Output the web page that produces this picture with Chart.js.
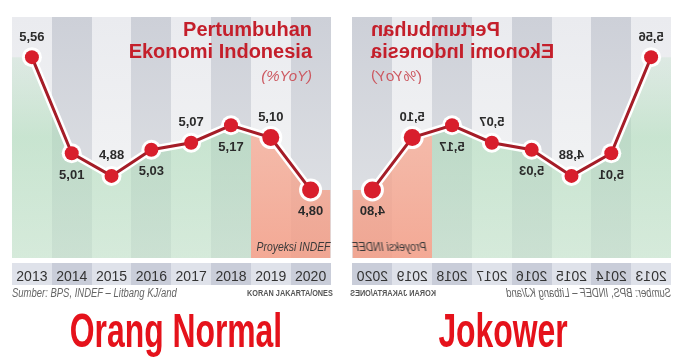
<!DOCTYPE html>
<html>
<head>
<meta charset="utf-8">
<script src="https://cdn.jsdelivr.net/npm/chart.js@4.4.1/dist/chart.umd.min.js"></script>
<style>
  body { margin: 0; width: 680px; height: 361px; overflow: hidden; background: #fff; position: relative; font-family: 'Liberation Sans', Arial, sans-serif; }
  .panel { position: absolute; top: 0; left: 0; width: 342px; height: 305px; }
  .panel.flip { left: 341px; transform: scaleX(-1); }
  .panel canvas { position: absolute; left: 0; top: 0; }
  .title { position: absolute; right: 30px; top: 18px; text-align: right; color: #c41f2b; font-weight: bold; font-size: 20px; line-height: 22px; white-space: nowrap; }
  .unit { position: absolute; right: 30px; top: 67px; color: #cc5860; font-style: italic; font-size: 15px; line-height: 18px; }
  .proj { position: absolute; right: 12px; top: 239px; color: #3a3a3a; font-style: italic; font-size: 13px; line-height: 15px; white-space: nowrap; transform: scaleX(0.8); transform-origin: right center; }
  .src { position: absolute; left: 12px; top: 286px; color: #666; font-style: italic; font-size: 12px; line-height: 14px; white-space: nowrap; transform: scaleX(0.79); transform-origin: left center; }
  .credit { position: absolute; right: 9px; top: 288px; color: #555; font-weight: bold; font-size: 9px; line-height: 10px; white-space: nowrap; transform: scaleX(0.81); transform-origin: right center; }
  .caption { position: absolute; top: 306px; width: 400px; text-align: center; color: #e5121b; font-weight: bold; font-size: 49px; line-height: 49px; white-space: nowrap; transform: scaleX(0.65); }
</style>
</head>
<body>
<div class="panel">
  <canvas id="chartLeft" width="342" height="290"></canvas>
  <div class="title">Pertumbuhan<br>Ekonomi Indonesia</div>
  <div class="unit">(%YoY)</div>
  <div class="proj">Proyeksi INDEF</div>
  <div class="src">Sumber: BPS, INDEF – Litbang KJ/and</div>
  <div class="credit">KORAN JAKARTA/ONES</div>
</div>
<div class="panel flip">
  <canvas id="chartRight" width="342" height="290"></canvas>
  <div class="title">Pertumbuhan<br>Ekonomi Indonesia</div>
  <div class="unit">(%YoY)</div>
  <div class="proj">Proyeksi INDEF</div>
  <div class="src">Sumber: BPS, INDEF – Litbang KJ/and</div>
  <div class="credit">KORAN JAKARTA/ONES</div>
</div>
<div class="caption" style="left:-24px">Orang Normal</div>
<div class="caption" style="left:303px">Jokower</div>

<script>
const years = ['2013', '2014', '2015', '2016', '2017', '2018', '2019', '2020'];
const growth = [5.56, 5.01, 4.88, 5.03, 5.07, 5.17, 5.10, 4.80];
const projectionFrom = '2019';

// label sits above (true) or below (false) its point
const labelAbove = [true, false, true, false, true, false, true, false];

const fmt = v => v.toFixed(2).replace('.', ',');

// column stripes + year band
const backdrop = {
    id: 'backdrop',
    beforeDraw(chart) {
        const { ctx, chartArea: a, scales: { x } } = chart;
        const w = x.getPixelForTick(1) - x.getPixelForTick(0);
        years.forEach((yr, i) => {
            const l = Math.round(x.getPixelForTick(i) - w / 2);
            const r = Math.round(x.getPixelForTick(i) + w / 2);
            const dark = i % 2 === 1;
            const g = ctx.createLinearGradient(0, a.top, 0, a.bottom);
            g.addColorStop(0, dark ? '#cdd0d8' : '#eaebef');
            g.addColorStop(1, dark ? '#e2e4e7' : '#f5f6f6');
            ctx.fillStyle = g;
            ctx.fillRect(l, a.top, r - l, a.bottom - a.top);
            ctx.fillStyle = dark ? '#c9cdd9' : '#dfe2ea';
            ctx.fillRect(l, a.bottom + 5, r - l, 22);
        });
    }
};

// area under the line: green for actuals, salmon for projection
const area = {
    id: 'area',
    beforeDatasetsDraw(chart) {
        const { ctx, chartArea: a, scales: { x } } = chart;
        const pts = chart.getDatasetMeta(1).data;
        const w = x.getPixelForTick(1) - x.getPixelForTick(0);
        const split = Math.round(x.getPixelForValue(years.indexOf(projectionFrom)) - w / 2);
        ctx.save();
        ctx.beginPath();
        ctx.moveTo(a.left, a.bottom);
        ctx.lineTo(a.left, pts[0].y);
        pts.forEach(p => ctx.lineTo(p.x, p.y));
        ctx.lineTo(a.right, pts[pts.length - 1].y);
        ctx.lineTo(a.right, a.bottom);
        ctx.closePath();
        ctx.clip();
        const gg = ctx.createLinearGradient(0, a.top, 0, a.bottom);
        gg.addColorStop(0, 'rgba(175,220,185,0.08)');
        gg.addColorStop(0.5, 'rgba(168,218,180,0.55)');
        gg.addColorStop(1, 'rgba(175,220,185,0.45)');
        ctx.fillStyle = gg;
        ctx.fillRect(a.left, a.top, split - a.left, a.bottom - a.top);
        const rg = ctx.createLinearGradient(0, a.top, 0, a.bottom);
        rg.addColorStop(0, 'rgba(248,185,165,0.7)');
        rg.addColorStop(1, 'rgba(243,150,125,0.8)');
        ctx.fillStyle = rg;
        ctx.fillRect(split, a.top, a.right - split, a.bottom - a.top);
        ctx.restore();
    }
};

const valueLabels = {
    id: 'valueLabels',
    afterDatasetsDraw(chart) {
        const { ctx } = chart;
        const pts = chart.getDatasetMeta(1).data;
        ctx.save();
        ctx.font = 'bold 13px "Liberation Sans", Arial, sans-serif';
        ctx.fillStyle = '#2b2b2b';
        ctx.textAlign = 'center';
        ctx.textBaseline = 'middle';
        pts.forEach((p, i) => {
            ctx.fillText(fmt(growth[i]), p.x, p.y + (labelAbove[i] ? -20 : 22));
        });
        ctx.restore();
    }
};

function build(id) {
    const proj = years.indexOf(projectionFrom);
    new Chart(document.getElementById(id), {
        type: 'line',
        data: {
            labels: years,
            datasets: [{
                // white halo, drawn underneath
                data: growth,
                order: 2,
                borderColor: '#ffffff',
                borderWidth: 8,
                pointRadius: c => c.index >= proj ? 11.5 : 10,
                pointBackgroundColor: '#ffffff',
                pointBorderWidth: 0
            }, {
                data: growth,
                order: 1,
                borderColor: '#a51d28',
                borderWidth: 3,
                pointRadius: c => c.index >= proj ? 8.5 : 7,
                pointBackgroundColor: '#d81e2c',
                pointBorderWidth: 0
            }]
        },
        options: {
            responsive: false,
            animation: false,
            events: [],
            layout: { padding: { top: 17, left: 12, right: 9, bottom: 0 } },
            plugins: {
                legend: { display: false },
                tooltip: { enabled: false }
            },
            scales: {
                y: {
                    display: false,
                    min: 4.41,
                    max: 5.79
                },
                x: {
                    offset: true,
                    grid: { display: false },
                    border: { display: false },
                    afterFit: s => { s.height = 32; },
                    ticks: {
                        color: '#333',
                        padding: 3,
                        maxRotation: 0,
                        minRotation: 0,
                        autoSkip: false,
                        font: { family: '"Liberation Sans", Arial, sans-serif', size: 14 }
                    }
                }
            }
        },
        plugins: [backdrop, area, valueLabels]
    });
}

build('chartLeft');
build('chartRight');
</script>
</body>
</html>
